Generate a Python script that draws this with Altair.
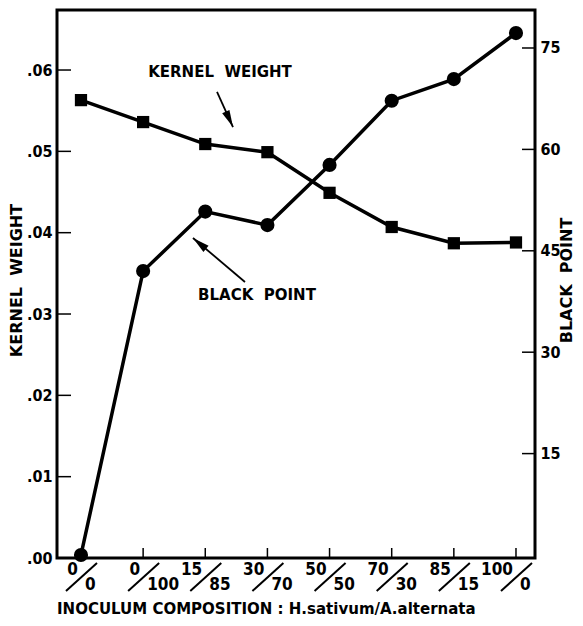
import altair as alt
import pandas as pd

# ---- data ----
positions = [0, 1, 2, 3, 4, 5, 6, 7]
numerators = ["0", "0", "15", "30", "50", "70", "85", "100"]
denominators = ["0", "100", "85", "70", "50", "30", "15", "0"]
kernel_weight = [0.0563, 0.0536, 0.0509, 0.0499, 0.0449, 0.0407, 0.0387, 0.0388]
black_point = [0.0, 42.0, 50.8, 48.8, 57.7, 67.2, 70.4, 77.2]
left_ticks = [0.01, 0.02, 0.03, 0.04, 0.05, 0.06]
left_labels = [0.0, 0.01, 0.02, 0.03, 0.04, 0.05, 0.06]
right_ticks = [15, 30, 45, 60, 75]
bottom_ticks = [1, 2, 3, 4, 5, 6, 7]

NB = "\u00a0\u00a0"
# annotation anchors in data units (x index, kernel weight)
ann_text = ["KERNEL" + NB + "WEIGHT", "BLACK" + NB + "POINT"]
ann_tx = [2.237, 2.832]
ann_ty = [0.05976, 0.03234]
arr_x1 = [2.189, 2.639]
arr_y1 = [0.05730, 0.03394]
arr_x2 = [2.446, 1.802]
arr_y2 = [0.05299, 0.03935]
arr_angle = [155, 310]

df = pd.DataFrame({"i": positions, "num": numerators, "den": denominators,
                   "kw": kernel_weight, "bp": black_point})
lt = pd.DataFrame({"v": left_ticks})
rt = pd.DataFrame({"v": right_ticks})
bt = pd.DataFrame({"i": bottom_ticks})
ann = pd.DataFrame({"t": ann_text, "x": ann_tx, "y": ann_ty,
                    "x1": arr_x1, "y1": arr_y1, "x2": arr_x2, "y2": arr_y2,
                    "a": arr_angle})

NARROW = "Liberation Sans Narrow, DejaVu Sans Condensed, sans-serif"
BOLD = "DejaVu Sans, sans-serif"

xs = alt.Scale(domain=[-0.386, 7.306], nice=False, zero=False)
yls = alt.Scale(domain=[0, 0.06738], nice=False, zero=False)
yrs = alt.Scale(domain=[-0.444, 80.62], nice=False, zero=False)

axL = alt.Axis(values=left_labels, labelExpr="substring(format(datum.value, '.2f'), 1)",
               ticks=False, domain=False, grid=False, labelPadding=5,
               labelFont=NARROW, labelFontSize=16, labelFontWeight="bold", labelColor="black",
               title="KERNEL" + NB + "WEIGHT", titleFont=BOLD, titleFontSize=16, titleFontWeight="bold",
               titleColor="black", titleAngle=270, titleX=-41, titleY=270,
               titleAlign="center", titleBaseline="middle")
axR = alt.Axis(values=right_ticks, orient="right",
               ticks=False, domain=False, grid=False, labelPadding=5,
               labelFont=NARROW, labelFontSize=16, labelFontWeight="bold", labelColor="black",
               title="BLACK" + NB + "POINT", titleFont=BOLD, titleFontSize=16, titleFontWeight="bold",
               titleColor="black", titleAngle=270, titleX=31, titleY=270,
               titleAlign="center", titleBaseline="middle")

X = alt.X("i:Q", scale=xs, axis=None)

kw_line = alt.Chart(df).mark_line(color="black", strokeWidth=3.5).encode(
    x=X, y=alt.Y("kw:Q", scale=yls, axis=axL))
kw_pts = alt.Chart(df).mark_point(shape="square", filled=True, color="black", size=150, opacity=1).encode(
    x=X, y=alt.Y("kw:Q", scale=yls, axis=axL))
l_ticks = alt.Chart(lt).mark_rule(color="black", strokeWidth=1.5).encode(
    y=alt.Y("v:Q", scale=yls, axis=axL), x=alt.value(0), x2=alt.value(14))
b_ticks = alt.Chart(bt).mark_rule(color="black", strokeWidth=1.5).encode(
    x=X, y=alt.value(538), y2=alt.value(548))
nums = alt.Chart(df).mark_text(font=NARROW, fontSize=17, fontWeight="bold", align="right",
                               baseline="alphabetic", dx=-3, color="black").encode(
    x=X, y=alt.value(565), text="num:N")
dens = alt.Chart(df).mark_text(font=NARROW, fontSize=17, fontWeight="bold", align="left",
                               baseline="alphabetic", dx=4, color="black").encode(
    x=X, y=alt.value(580), text="den:N")
slashes = alt.Chart(df).mark_rule(color="black", strokeWidth=2, xOffset=-15, x2Offset=16).encode(
    x=X, x2="i:Q", y=alt.value(581), y2=alt.value(553))
xtitle = alt.Chart(pd.DataFrame({"t": ["INOCULUM COMPOSITION : H.sativum/A.alternata"]})).mark_text(
    font=BOLD, fontSize=15, fontWeight="bold", align="left", baseline="alphabetic", color="black").encode(
    x=alt.value(0), y=alt.value(604), text="t:N")
ann_txt = alt.Chart(ann).mark_text(font=BOLD, fontSize=15, fontWeight="bold", align="center",
                                   baseline="middle", color="black").encode(
    x=alt.X("x:Q", scale=xs, axis=None), y=alt.Y("y:Q", scale=yls, axis=axL), text="t:N")
ann_line = alt.Chart(ann).mark_rule(color="black", strokeWidth=1.8).encode(
    x=alt.X("x1:Q", scale=xs, axis=None), x2="x2:Q",
    y=alt.Y("y1:Q", scale=yls, axis=axL), y2="y2:Q")
ann_head = alt.Chart(ann).mark_point(shape="M0,0L-0.4,1.7L0.4,1.7Z", filled=True, color="black",
                                     size=400, opacity=1).encode(
    x=alt.X("x2:Q", scale=xs, axis=None), y=alt.Y("y2:Q", scale=yls, axis=axL),
    angle=alt.Angle("a:Q", scale=None))

bp_line = alt.Chart(df).mark_line(color="black", strokeWidth=3.5).encode(
    x=X, y=alt.Y("bp:Q", scale=yrs, axis=axR))
bp_pts = alt.Chart(df).mark_point(shape="circle", filled=True, color="black", size=200, opacity=1).encode(
    x=X, y=alt.Y("bp:Q", scale=yrs, axis=axR))
r_ticks = alt.Chart(rt).mark_rule(color="black", strokeWidth=1.5).encode(
    y=alt.Y("v:Q", scale=yrs, axis=axR), x=alt.value(465), x2=alt.value(478))

left = alt.layer(kw_line, kw_pts, l_ticks, b_ticks, nums, dens, slashes, xtitle,
                 ann_txt, ann_line, ann_head)
right = alt.layer(bp_line, bp_pts, r_ticks)

chart = alt.layer(left, right).resolve_scale(y="independent").properties(
    width=478, height=548,
    autosize=alt.AutoSizeParams(type="none"),
    padding={"left": 49, "top": 2, "right": 40, "bottom": 60},
    background="white",
).configure_view(stroke="black", strokeWidth=3)

chart.save("out.html", embed_options={"renderer": "svg", "actions": False})
